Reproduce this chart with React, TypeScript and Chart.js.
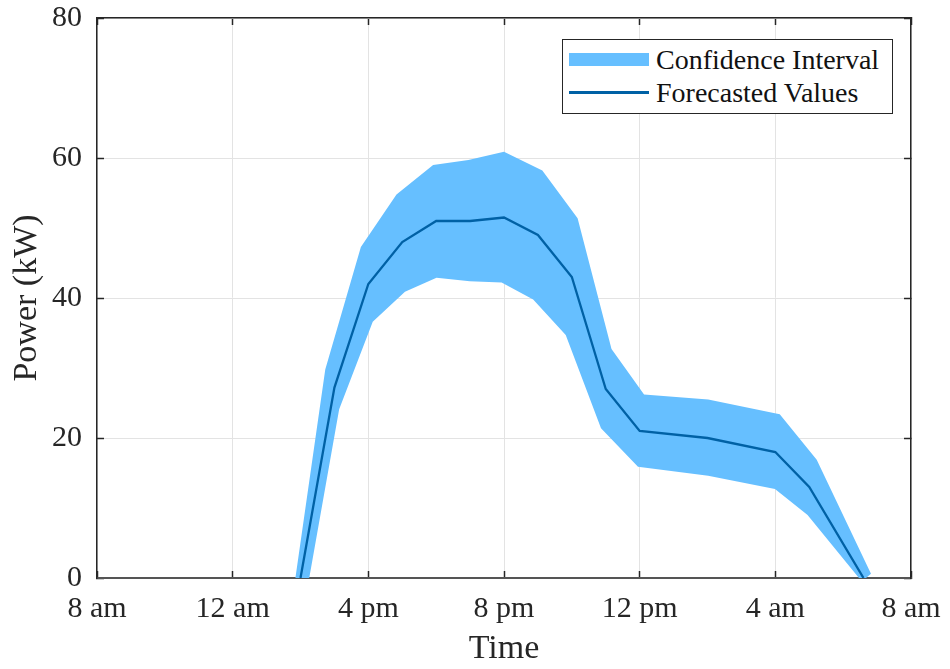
import React, { useEffect, useRef } from "react";
import { Chart, registerables } from "chart.js";

Chart.register(...registerables);

// Hours after 8 am (x) and forecasted power in kW (y)
const forecastHours = [6, 7, 8, 9, 10, 11, 12, 13, 14, 15, 16, 18, 20, 21, 22.6];
const forecastValues = [0, 27.2, 42, 48, 51, 51, 51.5, 49, 43, 27, 21, 20, 18, 13, 0];

// Confidence interval edges (left to right)
const upperHours = [5.85, 6.73, 7.78, 8.83, 9.91, 10.95, 12.0, 13.13, 14.17, 15.17, 16.13, 18.02, 20.13, 21.22, 22.82];
const upperValues = [0, 29.8, 47.3, 54.8, 59.0, 59.7, 60.9, 58.2, 51.4, 32.7, 26.2, 25.5, 23.4, 16.9, 0.6];
const lowerHours = [6.25, 7.14, 8.13, 9.08, 10.01, 10.99, 11.93, 12.86, 13.82, 14.86, 15.95, 18.02, 19.99, 20.95, 22.55];
const lowerValues = [-0.2, 24.1, 36.6, 40.9, 42.9, 42.4, 42.2, 39.8, 34.7, 21.4, 15.9, 14.6, 12.7, 9.0, -0.5];

const xTickLabels = ["8 am", "12 am", "4 pm", "8 pm", "12 pm", "4 am", "8 am"];
const xMin = 0;
const xMax = 24;
const xStep = 4;
const yMin = 0;
const yMax = 80;
const yStep = 20;

const FONT = "'Liberation Serif', 'Times New Roman', serif";
const DARK = "#262626";
const GRID = "#e3e3e3";
const BAND = "#66bfff";
const LINE = "#0061a5";

Chart.defaults.font.family = FONT;

export default function App() {
  const canvasRef = useRef<HTMLCanvasElement | null>(null);

  useEffect(() => {
    document.body.style.margin = "0";
    const canvas = canvasRef.current;
    if (!canvas) return;

    const linePts = forecastHours.map((h, i) => ({ x: h, y: forecastValues[i] }));
    const bandPts = [
      ...upperHours.map((h, i) => ({ x: h, y: upperValues[i] })),
      ...lowerHours.map((h, i) => ({ x: h, y: lowerValues[i] })).reverse(),
    ];

    const noPad = (s: any) => {
      s.paddingTop = 0;
      s.paddingBottom = 0;
      s.paddingLeft = 0;
      s.paddingRight = 0;
    };

    const chart = new Chart(canvas, {
      type: "line",
      data: {
        datasets: [
          {
            label: "Forecasted Values",
            data: linePts,
            borderColor: LINE,
            borderWidth: 2.3,
            pointRadius: 0,
            fill: false,
            tension: 0,
            order: 0,
          },
          {
            label: "Confidence Interval",
            data: bandPts,
            borderColor: "rgba(0,0,0,0)",
            borderWidth: 0,
            backgroundColor: BAND,
            pointRadius: 0,
            fill: "shape",
            tension: 0,
            order: 1,
            clip: 5,
          } as any,
        ],
      },
      options: {
        responsive: false,
        animation: false,
        layout: { padding: { left: 0, top: 18, right: 39, bottom: 0 } },
        plugins: {
          legend: { display: false },
          tooltip: { enabled: false },
        },
        scales: {
          x: {
            type: "linear",
            position: "bottom",
            min: xMin,
            max: xMax,
            ticks: {
              stepSize: xStep,
              autoSkip: false,
              maxRotation: 0,
              padding: 20,
              color: DARK,
              font: { family: FONT, size: 30 },
              callback: (_v: any, i: number) => xTickLabels[i],
            },
            grid: { color: GRID, lineWidth: 1, tickColor: DARK, tickLength: -7, tickWidth: 1.5 },
            border: { color: "#555555", width: 2 },
            title: { display: true, text: "Time", color: DARK, font: { family: FONT, size: 34 }, padding: { top: 0, bottom: 0 } },
            afterFit: (s: any) => {
              s.height = 91;
              noPad(s);
            },
          },
          x2: {
            type: "linear",
            position: "top",
            min: xMin,
            max: xMax,
            ticks: { stepSize: xStep, display: false },
            grid: { drawOnChartArea: false, tickColor: DARK, tickLength: -7, tickWidth: 1.5 },
            border: { color: DARK, width: 1.5 },
            afterFit: (s: any) => {
              s.height = 0;
              noPad(s);
            },
          },
          y: {
            type: "linear",
            position: "left",
            min: yMin,
            max: yMax,
            ticks: { stepSize: yStep, padding: 22, color: DARK, font: { family: FONT, size: 30 } },
            grid: { color: GRID, lineWidth: 1, tickColor: DARK, tickLength: -7, tickWidth: 1.5 },
            border: { color: DARK, width: 1.5 },
            title: { display: true, text: "Power (kW)", color: DARK, font: { family: FONT, size: 34 }, padding: { top: 7, bottom: 0 } },
            afterFit: (s: any) => {
              s.width = 97;
              noPad(s);
            },
          },
          y2: {
            type: "linear",
            position: "right",
            min: yMin,
            max: yMax,
            ticks: { stepSize: yStep, display: false },
            grid: { drawOnChartArea: false, tickColor: DARK, tickLength: -7, tickWidth: 1.5 },
            border: { color: DARK, width: 1.5 },
            afterFit: (s: any) => {
              s.width = 0;
              noPad(s);
            },
          },
        },
      } as any,
    });

    return () => chart.destroy();
  }, []);

  const rowStyle: React.CSSProperties = {
    display: "flex",
    alignItems: "center",
    height: 33,
    lineHeight: "33px",
  };

  return (
    <div style={{ position: "relative", width: 950, height: 669, background: "#fff" }}>
      <canvas ref={canvasRef} width={950} height={669} style={{ display: "block" }} />
      <div
        style={{
          position: "absolute",
          left: 562,
          top: 39,
          width: 331,
          height: 75,
          boxSizing: "border-box",
          border: `1.5px solid ${DARK}`,
          background: "#fff",
          paddingTop: 3,
          paddingLeft: 6,
          fontFamily: FONT,
          fontSize: 28,
          color: "#111",
          whiteSpace: "nowrap",
        }}
      >
        <div style={rowStyle}>
          <span style={{ display: "inline-block", width: 80, height: 13, background: BAND, marginRight: 7 }} />
          <span>Confidence Interval</span>
        </div>
        <div style={rowStyle}>
          <span style={{ display: "inline-block", width: 80, height: 2.3, background: LINE, marginRight: 7 }} />
          <span>Forecasted Values</span>
        </div>
      </div>
    </div>
  );
}
